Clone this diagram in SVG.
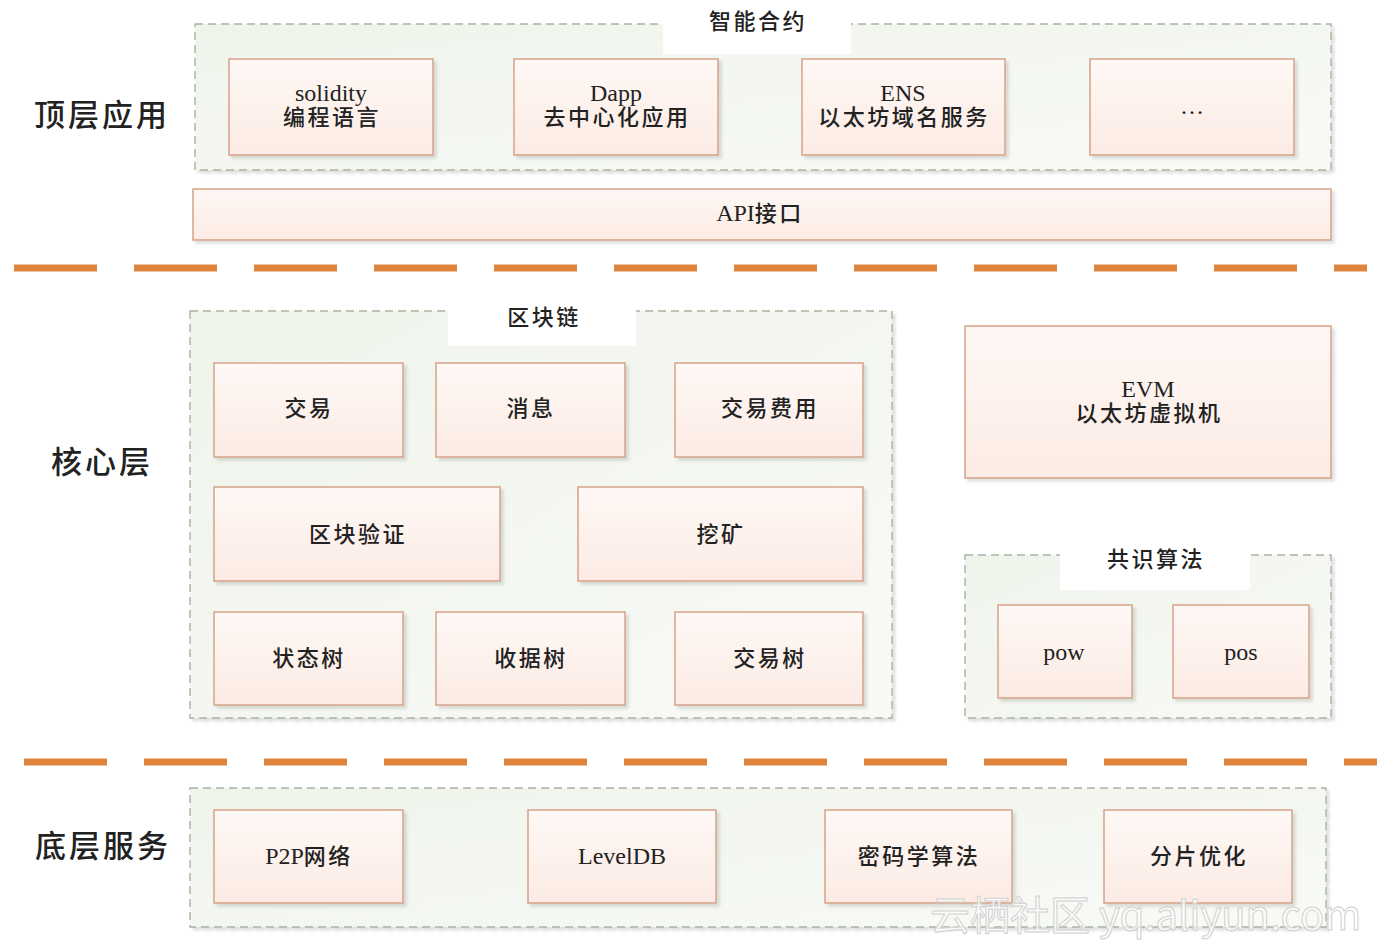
<svg xmlns="http://www.w3.org/2000/svg" width="1400" height="948" viewBox="0 0 1400 948">
<defs>
<linearGradient id="gBox" x1="0" y1="0" x2="0" y2="1">
<stop offset="0" stop-color="#fef8f5"/>
<stop offset="1" stop-color="#fcebe4"/>
</linearGradient>
<linearGradient id="gCont" x1="0" y1="0" x2="1" y2="1">
<stop offset="0" stop-color="#eff4eb"/>
<stop offset="1" stop-color="#f8faf6"/>
</linearGradient>
<filter id="sh" x="-5%" y="-5%" width="115%" height="125%">
<feDropShadow dx="3" dy="3" stdDeviation="1.5" flood-color="#000" flood-opacity="0.12"/>
</filter>
</defs>
<style>
.box{fill:url(#gBox);stroke:#d6a288;stroke-width:1.5;filter:url(#sh)}
.cont{fill:url(#gCont);stroke:#aab39e;stroke-width:1.4;stroke-dasharray:8 5;filter:url(#sh)}
.gap{fill:#ffffff}
.t{font-family:"Liberation Serif","Noto Sans CJK SC",serif;font-size:22px;font-weight:500;fill:#222;text-anchor:middle;dominant-baseline:central;letter-spacing:2.5px}
.e{letter-spacing:0;font-size:24px;font-weight:normal}
.lbl{font-family:"Liberation Serif","Noto Sans CJK SC",serif;font-size:31px;font-weight:500;fill:#222;text-anchor:middle;dominant-baseline:central;letter-spacing:3px}
.sep{stroke:#e0843c;stroke-width:7;stroke-dasharray:83 37}
.wm{font-family:"Noto Sans CJK SC","Liberation Sans",sans-serif;font-size:40px;fill:#ffffff;fill-opacity:0.7;stroke:#d0d0d0;stroke-width:1}
</style>
<rect width="1400" height="948" fill="#ffffff"/>

<g id="labels">
<text class="lbl" x="102" y="115">顶层应用</text>
<text class="lbl" x="102" y="462">核心层</text>
<text class="lbl" x="103" y="846">底层服务</text>
</g>

<g id="separators">
<line class="sep" x1="14" y1="268" x2="1367" y2="268"/>
<line class="sep" x1="24" y1="762" x2="1377" y2="762"/>
</g>

<g id="smart-contract">
<rect class="cont" x="195" y="24" width="1136" height="146"/>
<rect class="gap" x="663" y="8" width="188" height="46"/>
<text class="t" x="758" y="21">智能合约</text>
</g>
<g id="n-solidity"><rect class="box" x="229" y="59" width="204" height="96"/><text class="t e" x="331" y="93">solidity</text><text class="t" x="332" y="117">编程语言</text></g>
<g id="n-dapp"><rect class="box" x="514" y="59" width="204" height="96"/><text class="t e" x="616" y="93">Dapp</text><text class="t" x="617" y="117">去中心化应用</text></g>
<g id="n-ens"><rect class="box" x="802" y="59" width="203" height="96"/><text class="t e" x="903" y="93">ENS</text><text class="t" x="904" y="117">以太坊域名服务</text></g>
<g id="n-more"><rect class="box" x="1090" y="59" width="204" height="96"/><text class="t e" x="1192" y="106">…</text></g>

<g id="n-api"><rect class="box" x="193" y="189" width="1138" height="51"/><text class="t" x="760" y="213"><tspan class="e">API</tspan>接口</text></g>

<g id="blockchain">
<rect class="cont" x="190" y="311" width="702" height="407"/>
<rect class="gap" x="448" y="298" width="188" height="48"/>
<text class="t" x="544" y="317">区块链</text>
</g>
<g id="n-tx"><rect class="box" x="214" y="363" width="189" height="94"/><text class="t" x="309" y="408">交易</text></g>
<g id="n-msg"><rect class="box" x="436" y="363" width="189" height="94"/><text class="t" x="531" y="408">消息</text></g>
<g id="n-fee"><rect class="box" x="675" y="363" width="188" height="94"/><text class="t" x="770" y="408">交易费用</text></g>
<g id="n-verify"><rect class="box" x="214" y="487" width="286" height="94"/><text class="t" x="358" y="534">区块验证</text></g>
<g id="n-mine"><rect class="box" x="578" y="487" width="285" height="94"/><text class="t" x="721" y="534">挖矿</text></g>
<g id="n-state"><rect class="box" x="214" y="612" width="189" height="93"/><text class="t" x="309" y="658">状态树</text></g>
<g id="n-receipt"><rect class="box" x="436" y="612" width="189" height="93"/><text class="t" x="531" y="658">收据树</text></g>
<g id="n-txtree"><rect class="box" x="675" y="612" width="188" height="93"/><text class="t" x="770" y="658">交易树</text></g>

<g id="n-evm"><rect class="box" x="965" y="326" width="366" height="152"/><text class="t e" x="1148" y="389">EVM</text><text class="t" x="1149" y="413">以太坊虚拟机</text></g>

<g id="consensus">
<rect class="cont" x="965" y="555" width="366" height="163"/>
<rect class="gap" x="1060" y="543" width="190" height="47"/>
<text class="t" x="1156" y="559">共识算法</text>
</g>
<g id="n-pow"><rect class="box" x="998" y="605" width="134" height="93"/><text class="t e" x="1064" y="652">pow</text></g>
<g id="n-pos"><rect class="box" x="1173" y="605" width="136" height="93"/><text class="t e" x="1241" y="652">pos</text></g>

<g id="bottom">
<rect class="cont" x="190" y="788" width="1136" height="139"/>
</g>
<g id="n-p2p"><rect class="box" x="214" y="810" width="189" height="93"/><text class="t" x="309" y="856"><tspan class="e">P2P</tspan>网络</text></g>
<g id="n-leveldb"><rect class="box" x="528" y="810" width="188" height="93"/><text class="t e" x="622" y="856">LevelDB</text></g>
<g id="n-crypto"><rect class="box" x="825" y="810" width="187" height="93"/><text class="t" x="919" y="856">密码学算法</text></g>
<g id="n-shard"><rect class="box" x="1104" y="810" width="188" height="93"/><text class="t" x="1199" y="856">分片优化</text></g>

<g id="connectors"></g>

<text class="wm" x="930" y="930">云栖社区 yq.aliyun.com</text>
</svg>
